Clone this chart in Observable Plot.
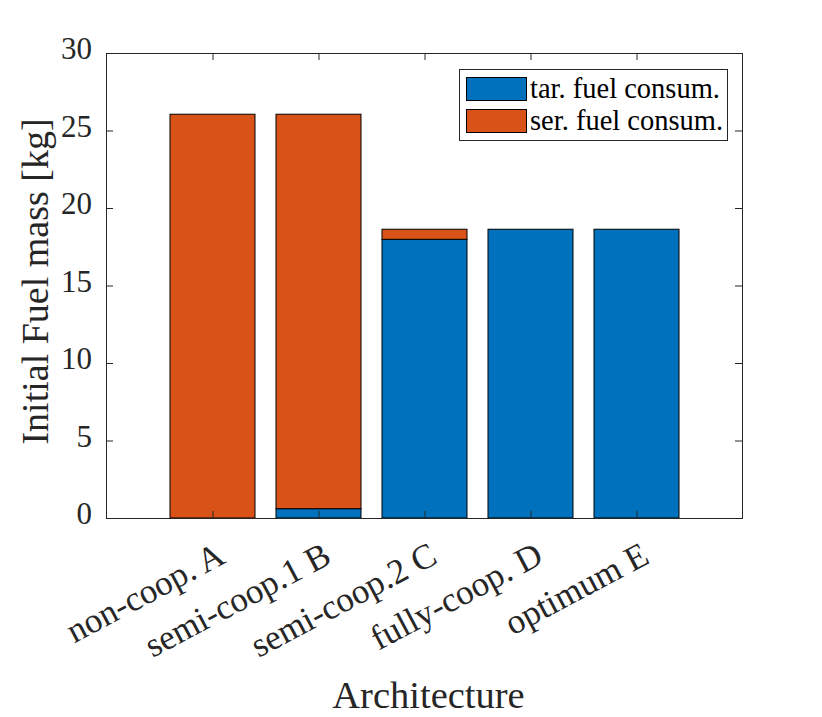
<!DOCTYPE html>
<html>
<head>
<meta charset="utf-8">
<script src="https://cdn.jsdelivr.net/npm/d3@7"></script>
<script src="https://cdn.jsdelivr.net/npm/@observablehq/plot@0.6"></script>
<style>
  body { margin: 0; background: #fff; }
  #wrap { position: relative; width: 822px; height: 717px; font-family: "Liberation Serif", "Times New Roman", serif; }
  #legend { position: absolute; left: 459px; top: 69px; width: 267px; height: 70px; border: 1px solid #262626; background: #fff; box-sizing: content-box; }
  .row { position: absolute; left: 6px; height: 24px; display: flex; align-items: center; }
  .sw { width: 59px; height: 22px; border: 1px solid #000; box-sizing: content-box; }
  .lt { margin-left: 3px; font-size: 28.5px; color: #000; line-height: 24px; white-space: nowrap; }
</style>
</head>
<body>
<div id="wrap"></div>
<script>
const categories = ["non-coop. A", "semi-coop.1 B", "semi-coop.2 C", "fully-coop. D", "optimum E"];
const seriesNames = ["tar. fuel consum.", "ser. fuel consum."];
const seriesColors = ["#0072BD", "#D95319"];
const tarValues = [0, 0.6, 17.98, 18.63, 18.63];
const serValues = [26.05, 25.45, 0.65, 0, 0];
const yTicks = [0, 5, 10, 15, 20, 25, 30];
const yLabel = "Initial Fuel mass [kg]";
const xLabel = "Architecture";

const data = [];
categories.forEach((c, i) => {
  data.push({arch: c, series: seriesNames[0], value: tarValues[i]});
  data.push({arch: c, series: seriesNames[1], value: serValues[i]});
});

const W = 822, H = 717, mL = 106, mR = 80, mT = 53, mB = 199;
const fw = W - mL - mR, fh = H - mT - mB;
const axisColor = "#262626";
const font = "Liberation Serif, Times New Roman, serif";

const chart = Plot.plot({
  width: W, height: H,
  marginLeft: mL, marginRight: mR, marginTop: mT, marginBottom: mB,
  style: {fontFamily: font, background: "#fff", color: axisColor},
  x: {type: "band", domain: categories, paddingInner: 0.2, paddingOuter: 0.6, axis: null},
  y: {domain: [0, 30], axis: null},
  color: {domain: seriesNames, range: seriesColors},
  marks: [
    Plot.barY(data, {x: "arch", y: "value", fill: "series", stroke: "#000", strokeWidth: 1, inset: 0, order: null}),
    Plot.frame({stroke: axisColor, strokeWidth: 1}),
    Plot.tickY(yTicks, {y: d => d, insetRight: fw - 7, stroke: axisColor}),
    Plot.tickY(yTicks, {y: d => d, insetLeft: fw - 7, stroke: axisColor}),
    Plot.tickX(categories, {x: d => d, insetTop: fh - 7, stroke: axisColor}),
    Plot.tickX(categories, {x: d => d, insetBottom: fh - 7, stroke: axisColor}),
    Plot.axisY({ticks: yTicks, tickSize: 0, tickPadding: 14.5, fontSize: 31, dy: -4, label: null, fill: axisColor}),
    Plot.text(categories, {x: d => d, frameAnchor: "bottom", rotate: -28, textAnchor: "end", lineAnchor: "middle", dx: 8.8, dy: 33.8, fontSize: 35, fill: axisColor}),
    Plot.text([yLabel], {frameAnchor: "left", text: d => d, rotate: -90, dx: -70.5, dy: -4.5, fontSize: 38, textAnchor: "middle", lineAnchor: "middle", fill: axisColor}),
    Plot.text([xLabel], {frameAnchor: "bottom", text: d => d, dx: 4, dy: 177.5, fontSize: 38.5, textAnchor: "middle", lineAnchor: "middle", fill: axisColor})
  ]
});

const wrap = document.getElementById("wrap");
wrap.appendChild(chart);

const legend = document.createElement("div");
legend.id = "legend";
seriesNames.forEach((name, i) => {
  const row = document.createElement("div");
  row.className = "row";
  row.style.top = (i === 0 ? 7 : 39) + "px";
  const sw = document.createElement("div");
  sw.className = "sw";
  sw.style.background = seriesColors[i];
  const lt = document.createElement("span");
  lt.className = "lt";
  lt.textContent = name;
  row.appendChild(sw);
  row.appendChild(lt);
  legend.appendChild(row);
});
wrap.appendChild(legend);
</script>
</body>
</html>
